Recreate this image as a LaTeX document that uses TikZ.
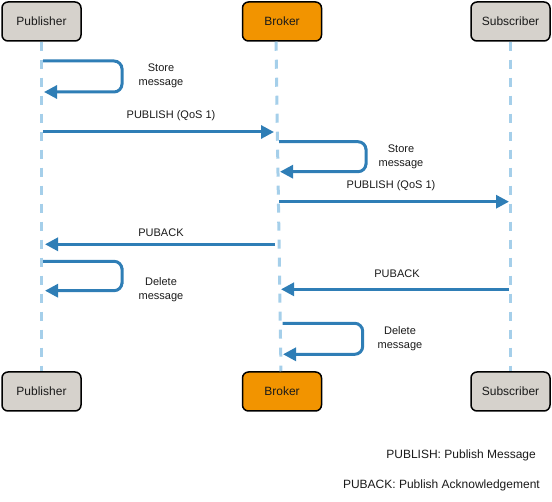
\documentclass[tikz,border=0pt]{standalone}
\usepackage{fontspec}
\setmainfont{Liberation Sans}
\usetikzlibrary{arrows.meta}
\definecolor{boxgray}{HTML}{D6D2CC}
\definecolor{brokerorange}{HTML}{F29400}
\definecolor{msgblue}{HTML}{2F7EB6}
\definecolor{lifeblue}{HTML}{A5CFEA}
\definecolor{txt}{HTML}{1A1A1A}
\begin{document}
\begin{tikzpicture}[x=1pt,y=-1pt,
  actor/.style={draw=black, line width=1.5pt, rounded corners=6pt, minimum width=79pt, minimum height=39pt, inner sep=0pt, text=txt, font=\fontsize{12}{14}\selectfont},
  lifeline/.style={draw=lifeblue, line width=3pt, dash pattern=on 9pt off 9pt},
  msg/.style={draw=msgblue, line width=3pt, -{Triangle[length=13pt,width=13pt]}},
  loopmsg/.style={msg, rounded corners=8pt},
  lbl/.style={font=\fontsize{11}{14}\selectfont, align=center, inner sep=0pt, text=txt},
  legend/.style={font=\fontsize{12}{14}\selectfont, inner sep=0pt, anchor=east, text=txt}]
\path[use as bounding box] (0,0) rectangle (552,502);

% actors
\node[actor, fill=boxgray] (pubT) at (41.5,21.5) {Publisher};
\node[actor, fill=brokerorange] (brkT) at (282,21.5) {Broker};
\node[actor, fill=boxgray] (subT) at (510.5,21.5) {Subscriber};
\node[actor, fill=boxgray] (pubB) at (41.5,391.5) {Publisher};
\node[actor, fill=brokerorange] (brkB) at (282,391.5) {Broker};
\node[actor, fill=boxgray] (subB) at (510.5,391.5) {Subscriber};

% lifelines
\draw[lifeline] (pubT.south) -- (pubB.north);
\draw[lifeline] ([xshift=-6pt]brkT.south) -- ([xshift=-1pt]brkB.north);
\draw[lifeline] (subT.south) -- (subB.north);

% coordinates
\coordinate (a1) at (43,61);   \coordinate (a1b) at (44,92);
\coordinate (a2) at (43,132);  \coordinate (a2b) at (274,132);
\coordinate (a3) at (279,141.7); \coordinate (a3b) at (280,171.7);
\coordinate (a4) at (279,201.7); \coordinate (a4b) at (509,201.7);
\coordinate (a5) at (275,244.3); \coordinate (a5b) at (45,244.3);
\coordinate (a6) at (43,261.3); \coordinate (a6b) at (45,290.7);
\coordinate (a7) at (509,289.3); \coordinate (a7b) at (281,289.3);
\coordinate (a8) at (282.7,323.3); \coordinate (a8b) at (283,354.3);

% messages
\draw[loopmsg] (a1) -| (122,76.5) |- (a1b);
\draw[msg] (a2) -- (a2b);
\draw[loopmsg] (a3) -| (366,156.7) |- (a3b);
\draw[msg] (a4) -- (a4b);
\draw[msg] (a5) -- (a5b);
\draw[loopmsg] (a6) -| (122,276) |- (a6b);
\draw[msg] (a7) -- (a7b);
\draw[loopmsg] (a8) -| (362.7,338.8) |- (a8b);

% labels
\node[lbl] (l1) at (161,76) {Store\\message};
\node[lbl] (l2) at (171,116) {PUBLISH (QoS 1)};
\node[lbl] (l3) at (401,156.5) {Store\\message};
\node[lbl] (l4) at (391,186) {PUBLISH (QoS 1)};
\node[lbl] (l5) at (161,233) {PUBACK};
\node[lbl] (l6) at (161,289.5) {Delete\\message};
\node[lbl] (l7) at (397,274) {PUBACK};
\node[lbl] (l8) at (400,338.5) {Delete\\message};

% legend
\node[legend] (g1) at (536,455.5) {PUBLISH: Publish Message};
\node[legend] (g2) at (540,485) {PUBACK: Publish Acknowledgement};
\end{tikzpicture}
\end{document}
